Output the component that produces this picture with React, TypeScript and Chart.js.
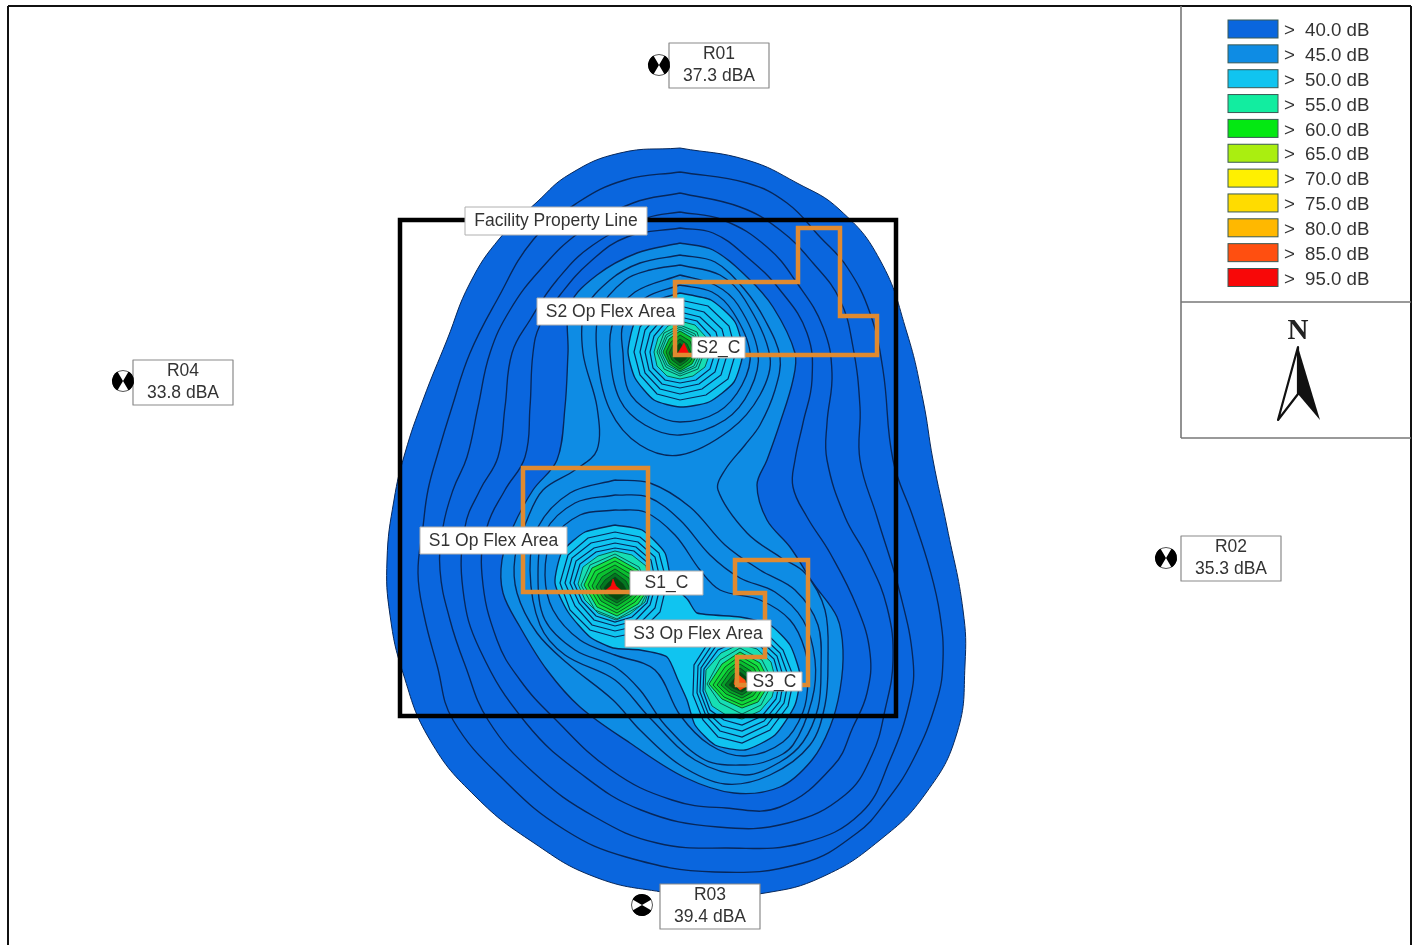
import React, { useEffect, useRef } from "react";
import { Chart, registerables } from "chart.js";

Chart.register(...registerables);

type Pt = [number, number];

const contour40: Pt[] = [[680,148],[747,160],[797,183],[840,210],[880,260],[907,333],[923,400],[933,460],[947,527],[963,610],[965,665],[957,733],[926,793],[880,840],[822,877],[765,893],[710,896],[662,892],[595,877],[534,843],[476,797],[430,740],[403,673],[390,615],[387,560],[394,500],[405,453],[423,400],[447,340],[470,283],[500,238],[537,202],[570,174],[620,153]];
const contour41: Pt[] = [[680,172],[747,183],[787,203],[820,237],[847,267],[870,313],[883,370],[893,460],[913,517],[930,570],[940,615],[943,660],[937,700],[913,760],[885,803],[857,833],[803,863],[715,872],[626,857],[565,830],[507,783],[453,720],[437,665],[424,615],[418,573],[423,527],[428,490],[438,453],[452,407],[470,353],[497,300],[533,240],[577,203],[625,180]];
const contour42: Pt[] = [[680,193],[740,207],[780,230],[813,263],[840,300],[853,347],[860,407],[860,460],[877,517],[900,593],[913,660],[910,700],[890,760],[861,813],[803,843],[726,848],[657,843],[595,817],[534,773],[488,720],[465,665],[450,620],[440,570],[443,527],[453,490],[467,457],[478,407],[490,353],[510,310],[540,270],[580,232],[633,203]];
const contour43: Pt[] = [[680,212],[723,220],[767,247],[797,283],[823,327],[832,373],[827,423],[827,460],[845,517],[867,557],[887,607],[893,660],[885,710],[872,755],[845,795],[788,823],[718,827],[641,810],[580,773],[526,723],[480,650],[463,590],[465,527],[480,490],[498,457],[505,407],[512,353],[530,320],[557,280],[593,245],[647,218]];
const contour44: Pt[] = [[680,228],[713,233],[747,257],[780,290],[807,333],[812,380],[803,423],[795,460],[793,487],[807,517],[830,553],[857,607],[870,653],[867,693],[853,727],[834,765],[780,807],[726,808],[672,800],[611,770],[553,717],[520,680],[497,640],[482,575],[487,527],[505,490],[525,457],[530,407],[533,353],[540,325],[560,295],[590,262],[627,237]];
const contour45: Pt[] = [[680,243],[713,250],[747,277],[773,307],[795,353],[793,380],[780,423],[767,460],[757,485],[767,520],[790,547],[813,583],[837,617],[843,650],[840,690],[830,727],[812,760],[780,787],[734,793],[684,777],[630,743],[580,707],[547,670],[520,627],[503,593],[502,560],[513,527],[533,490],[557,460],[565,407],[568,353],[570,305],[597,275],[637,253]];
const contour46: Pt[] = [[680,255],[715,262],[745,290],[765,320],[780,357],[775,390],[760,425],[745,445],[725,470],[718,490],[747,533],[780,557],[805,573],[825,610],[828,660],[825,705],[810,745],[770,775],[725,784],[680,765],[640,730],[613,700],[567,663],[537,633],[517,593],[515,557],[527,520],[543,490],[575,470],[597,450],[597,407],[583,353],[585,310],[610,280],[640,263]];
const contour47North: Pt[] = [[680,265],[720,275],[745,300],[770,357],[760,395],[730,430],[680,455],[640,445],[610,410],[597,353],[600,310],[625,280],[650,270]];
const contour47South: Pt[] = [[615,480],[650,483],[690,507],[725,545],[760,570],[795,590],[818,625],[821,670],[818,708],[803,742],[780,762],[745,775],[695,760],[650,718],[615,680],[565,655],[540,625],[530,570],[538,527],[570,493]];
const contour48North: Pt[] = [[680,275],[715,285],[738,305],[758,352],[750,390],[725,420],[680,435],[645,425],[620,400],[610,353],[614,320],[635,292]];
const contour48South: Pt[] = [[615,495],[648,497],[680,520],[710,555],[740,578],[775,592],[803,620],[815,660],[812,700],[793,745],[770,760],[745,765],[705,760],[665,725],[640,690],[615,667],[575,650],[545,620],[538,575],[545,532],[575,503]];
const contour49North: Pt[] = [[680,285],[712,292],[733,312],[750,352],[742,385],[718,412],[680,422],[650,412],[628,390],[623,353],[623,325],[645,298]];
const contour49South: Pt[] = [[615,510],[645,512],[675,535],[700,570],[720,590],[760,600],[790,620],[805,650],[808,680],[803,712],[783,742],[745,756],[710,745],[680,715],[655,670],[615,655],[580,640],[553,610],[545,575],[552,540],[580,515]];
const contour50North: Pt[] = [[680,293],[711,300],[735,322],[743,352],[734,382],[709,402],[680,407],[654,400],[635,378],[628,352],[634,324],[652,302]];
const contour50South: Pt[] = [[615,525],[642,530],[665,553],[672,583],[688,600],[697,613],[740,617],[770,625],[790,645],[800,675],[795,705],[775,735],[745,750],[715,745],[695,725],[687,700],[678,680],[667,657],[640,650],[613,648],[590,637],[568,612],[555,583],[562,552],[585,532]];

const peakS2Cyan: Pt[][] = [
  [[680,300],[708,306],[729,326],[736,352],[728,379],[706,395],[680,400],[657,394],[640,375],[634,352],[640,327],[655,309]],
  [[680,306],[704,312],[722,329],[728,352],[721,375],[702,389],[680,394],[660,389],[645,373],[640,352],[645,330],[659,314]],
  [[680,312],[700,317],[716,332],[721,352],[715,372],[699,384],[680,388],[662,384],[649,370],[645,352],[650,333],[662,319]],
  [[680,317],[697,321],[710,335],[715,353],[710,369],[696,380],[680,383],[665,380],[653,368],[650,352],[654,336],[665,323]],
];
const peakS2Mint: Pt[][] = [
  [[680,321],[695,325],[706,337],[710,353],[705,367],[693,376],[680,379],[667,376],[657,366],[654,352],[658,338],[668,326]],
  [[680,325],[697,332],[704,353],[698,369],[680,376],[664,369],[657,352],[664,333]],
  [[680,327],[695,334],[702,353],[696,367],[680,374],[666,367],[659,352],[666,335]],
  [[680,329],[694,336],[700,353],[694,366],[680,372],[667,365],[661,352],[667,337]],
];
const peakS2Green: Pt[][] = [
  [[680,331],[692,338],[698,353],[692,364],[680,371],[669,364],[663,352],[669,339]],
  [[680,335],[690,341],[695,354],[690,362],[680,369],[670,362],[666,352],[671,342]],
  [[680,339],[687,344],[692,355],[687,361],[680,366],[672,360],[669,353],[673,345]],
  [[680,343],[685,348],[688,356],[685,360],[680,363],[675,359],[672,354],[675,348]],
];
const peakS2Core: Pt[] = [[676,356],[681,348],[684,343],[690,356]];

const peakS1Cyan: Pt[][] = [
  [[615,532],[640,537],[659,553],[667,583],[660,612],[640,632],[615,637],[590,630],[570,610],[560,583],[568,555],[588,538]],
  [[615,538],[638,542],[655,557],[661,583],[655,608],[637,626],[615,631],[592,625],[575,606],[565,583],[572,558],[591,543]],
  [[615,543],[636,547],[651,560],[656,584],[650,605],[635,621],[615,626],[594,620],[579,603],[570,583],[576,561],[594,548]],
  [[615,548],[634,551],[648,563],[652,585],[647,603],[632,617],[615,622],[596,616],[582,601],[574,583],[580,564],[596,552]],
];
const peakS1Mint: Pt[][] = [
  [[615,551],[632,555],[646,566],[650,587],[645,602],[630,614],[616,620],[598,613],[585,600],[578,584],[583,567],[598,556]],
  [[615,554],[639,567],[649,589],[641,605],[617,619],[595,610],[581,585],[590,565]],
];
const peakS1Green: Pt[][] = [
  [[615,557],[638,570],[647,591],[638,604],[617,616],[597,607],[584,585],[592,568]],
  [[615,561],[635,572],[644,591],[635,602],[617,613],[599,604],[588,585],[595,571]],
  [[615,565],[632,575],[640,592],[632,600],[617,610],[601,601],[592,586],[598,574]],
  [[615,569],[629,578],[636,592],[629,598],[617,606],[604,599],[596,587],[602,577]],
  [[615,573],[626,581],[632,593],[626,597],[617,603],[606,597],[600,587],[605,580]],
  [[615,577],[623,584],[628,593],[623,596],[617,600],[609,595],[604,588],[608,583]],
];
const peakS1Core: Pt[] = [[605,591],[611,586],[613,579],[616,586],[622,591]];

const peakS3Cyan: Pt[][] = [
  [[740,625],[765,632],[783,650],[794,678],[788,706],[770,730],[742,743],[718,737],[703,720],[693,695],[694,665],[712,637]],
  [[740,631],[763,637],[780,653],[789,678],[784,703],[767,725],[742,737],[720,731],[706,716],[697,693],[698,666],[714,642]],
  [[740,636],[761,641],[777,656],[784,679],[780,701],[764,721],[742,731],[722,726],[708,713],[700,692],[701,668],[716,646]],
  [[740,640],[759,645],[774,659],[780,680],[776,699],[762,716],[742,725],[724,720],[710,710],[703,691],[704,669],[718,650]],
];
const peakS3Mint: Pt[][] = [
  [[740,644],[757,649],[771,662],[776,681],[772,697],[760,711],[742,719],[726,715],[712,706],[705,690],[706,670],[721,653]],
  [[740,648],[762,660],[773,682],[761,705],[742,714],[720,703],[707,684],[720,660]],
];
const peakS3Green: Pt[][] = [
  [[740,652],[760,663],[770,683],[758,702],[742,708],[722,699],[709,684],[722,664]],
  [[740,656],[757,666],[766,683],[756,699],[742,705],[724,697],[713,685],[725,667]],
  [[740,660],[754,668],[762,684],[753,696],[742,701],[726,694],[717,685],[728,670]],
  [[740,664],[751,671],[758,684],[751,693],[742,698],[729,692],[721,685],[730,672]],
  [[740,668],[748,674],[754,685],[748,691],[742,695],[731,690],[725,685],[733,675]],
  [[740,672],[746,677],[750,685],[746,689],[742,692],[733,688],[729,685],[735,678]],
];
const peakS3Core: Pt[] = [[736,673],[745,680],[747,686],[740,690],[734,684]];

const propertyLine: Pt[] = [[400,220],[896,220],[896,716],[400,716]];
const s1FlexArea: Pt[] = [[523,468],[648,468],[648,592],[523,592]];
const s2FlexArea: Pt[] = [[675,282],[798,282],[798,228],[840,228],[840,316],[877,316],[877,355],[675,355]];
const s3FlexArea: Pt[] = [[735,560],[808,560],[808,685],[737,685],[737,657],[765,657],[765,593],[735,593]];

const legendLabels = ["40.0 dB","45.0 dB","50.0 dB","55.0 dB","60.0 dB","65.0 dB","70.0 dB","75.0 dB","80.0 dB","85.0 dB","95.0 dB"];
const legendColors = ["#0a66de","#0e8ce4","#10c4f0","#12eda0","#04e812","#aaee10","#fff000","#ffdc00","#ffb800","#ff4f10","#f80808"];

const receiverNames = ["R01","R02","R03","R04"];
const receiverLevels = ["37.3 dBA","35.3 dBA","39.4 dBA","33.8 dBA"];
const receiverX = [719,1231,710,183];
const receiverY = [65,558,906,382];
const receiverMarkX = [659,1166,642,123];
const receiverMarkY = [65,558,905,381];
const receiverMarkTurned = [false,false,true,false];

const calloutTexts = ["Facility Property Line","S2 Op Flex Area","S2_C","S1 Op Flex Area","S1_C","S3 Op Flex Area","S3_C"];
const calloutBoxes: [number,number,number,number][] = [[465,207,647,235],[537,298,684,325],[692,337,745,358],[420,527,567,554],[630,571,703,595],[625,620,771,647],[747,672,802,691]];

const DARK_LINE = "#07275a";
const GREEN_LINE = "#0a4420";
const PEAK_MINT = "#16dfb4";

const ring = (pts: Pt[], fillColor: string, lineColor: string, tension: number, width = 1.35) => ({
  data: [...pts, pts[0]].map(([x, y]) => ({ x, y })),
  showLine: true,
  fill: "shape",
  backgroundColor: fillColor,
  borderColor: lineColor,
  borderWidth: width,
  pointRadius: 0,
  tension,
});

const outline = (pts: Pt[], color: string, width: number) => ({
  data: [...pts, pts[0], pts[1]].map(([x, y]) => ({ x, y })),
  showLine: true,
  fill: false,
  borderColor: color,
  borderWidth: width,
  borderJoinStyle: "miter",
  pointRadius: 0,
  tension: 0,
});

export default function App() {
  const ref = useRef<HTMLCanvasElement>(null);
  useEffect(() => {
    const [c40, c45, c50, , c60] = legendColors;
    const peaks = [
      [peakS1Cyan, peakS1Mint, peakS1Green, peakS1Core, "#f80808"],
      [peakS2Cyan, peakS2Mint, peakS2Green, peakS2Core, "#f80808"],
      [peakS3Cyan, peakS3Mint, peakS3Green, peakS3Core, "#ff4f10"],
    ] as [Pt[][], Pt[][], Pt[][], Pt[], string][];
    const greens = ["#14e244", "#0fd83a", "#0ac030", "#06a028", "#047820", "#034a10"];
    const layers: any[] = [
      ring(contour40, c40, DARK_LINE, 0.45, 1),
      ...[contour41, contour42, contour43, contour44].map((p) => ring(p, c40, DARK_LINE, 0.42)),
      ...[contour45, contour46, contour47North, contour47South, contour48North, contour48South, contour49North, contour49South].map((p) => ring(p, c45, DARK_LINE, 0.35)),
      ...[contour50North, contour50South].map((p) => ring(p, c50, DARK_LINE, 0.2)),
    ];
    for (const [cy, mi, gr, core, coreColor] of peaks) {
      cy.forEach((p) => layers.push(ring(p, c50, DARK_LINE, 0, 1.2)));
      mi.forEach((p) => layers.push(ring(p, PEAK_MINT, "#0a5a50", 0, 1)));
      gr.forEach((p, i) => layers.push(ring(p, greens[i + (6 - gr.length)] ?? c60, GREEN_LINE, 0, 0.9)));
      layers.push(ring(core, coreColor, coreColor, 0, 0.5));
    }
    layers.push(outline(propertyLine, "#000000", 4.5));
    layers.push(outline(s1FlexArea, "#e08a30", 4.5));
    layers.push(outline(s2FlexArea, "#e08a30", 4.5));
    layers.push(outline(s3FlexArea, "#e08a30", 4.5));

    const annotations = {
      id: "annotations",
      afterDatasetsDraw(chart: any) {
        const { ctx, scales } = chart;
        const X = (v: number) => scales.x.getPixelForValue(v);
        const Y = (v: number) => scales.y.getPixelForValue(v);
        const line = (a: number, b: number, c: number, d: number, color: string, w: number) => {
          ctx.strokeStyle = color; ctx.lineWidth = w;
          ctx.beginPath(); ctx.moveTo(X(a), Y(b)); ctx.lineTo(X(c), Y(d)); ctx.stroke();
        };
        ctx.save();
        // page frame and side panel
        line(8, 6, 8, 945, "#111", 2);
        line(8, 6, 1411, 6, "#111", 2);
        line(1411, 6, 1411, 945, "#111", 2);
        line(1181, 6, 1181, 438, "#777", 1.6);
        line(1181, 302, 1411, 302, "#777", 1.6);
        line(1181, 438, 1411, 438, "#777", 1.6);

        // legend
        ctx.textBaseline = "middle";
        legendLabels.forEach((label, i) => {
          const y = 20 + i * 24.85;
          ctx.fillStyle = legendColors[i];
          ctx.strokeStyle = "#3a5a55";
          ctx.lineWidth = 1;
          ctx.fillRect(X(1228), Y(y), 50, 18);
          ctx.strokeRect(X(1228), Y(y), 50, 18);
          ctx.fillStyle = "#333";
          ctx.font = "18.7px 'Liberation Sans'";
          ctx.textAlign = "left";
          ctx.fillText(">", X(1284), Y(y + 11));
          ctx.fillText(label, X(1305), Y(y + 11));
        });

        // north arrow
        ctx.fillStyle = "#222";
        ctx.textAlign = "center";
        ctx.font = "bold 29px 'Liberation Serif'";
        ctx.fillText("N", X(1298), Y(332));
        ctx.fillStyle = "#111";
        ctx.beginPath();
        ctx.moveTo(X(1298), Y(347)); ctx.lineTo(X(1320), Y(420)); ctx.lineTo(X(1298), Y(394)); ctx.closePath();
        ctx.fill();
        ctx.strokeStyle = "#111"; ctx.lineWidth = 2.2; ctx.lineJoin = "round";
        ctx.beginPath();
        ctx.moveTo(X(1298), Y(347)); ctx.lineTo(X(1278), Y(420)); ctx.lineTo(X(1298), Y(394)); ctx.closePath();
        ctx.stroke();

        // receivers
        receiverNames.forEach((name, i) => {
          const cx = receiverX[i], cy = receiverY[i];
          ctx.fillStyle = "#fff";
          ctx.strokeStyle = "#8a8a8a";
          ctx.lineWidth = 1.2;
          ctx.fillRect(X(cx - 50), Y(cy - 22), 100, 45);
          ctx.strokeRect(X(cx - 50), Y(cy - 22), 100, 45);
          ctx.fillStyle = "#333";
          ctx.textAlign = "center";
          ctx.font = "17.5px 'Liberation Sans'";
          ctx.fillText(name, X(cx), Y(cy - 11));
          ctx.fillText(receiverLevels[i], X(cx), Y(cy + 11));

          const mx = X(receiverMarkX[i]), my = Y(receiverMarkY[i]);
          ctx.save();
          ctx.translate(mx, my);
          if (receiverMarkTurned[i]) ctx.rotate(Math.PI / 2);
          ctx.beginPath(); ctx.arc(0, 0, 10.5, 0, Math.PI * 2);
          ctx.fillStyle = "#fff"; ctx.fill();
          ctx.strokeStyle = "#555"; ctx.lineWidth = 1; ctx.stroke();
          ctx.fillStyle = "#000";
          ctx.beginPath(); ctx.moveTo(0, 0); ctx.arc(0, 0, 11, Math.PI * 0.67, Math.PI * 1.33); ctx.closePath(); ctx.fill();
          ctx.beginPath(); ctx.moveTo(0, 0); ctx.arc(0, 0, 11, -Math.PI * 0.33, Math.PI * 0.33); ctx.closePath(); ctx.fill();
          ctx.restore();
        });

        // callouts
        calloutTexts.forEach((text, i) => {
          const [a, b, c, d] = calloutBoxes[i];
          ctx.fillStyle = "#fff";
          ctx.fillRect(X(a), Y(b), c - a, d - b);
          ctx.strokeStyle = "#b0b0b0";
          ctx.lineWidth = 1;
          ctx.strokeRect(X(a), Y(b), c - a, d - b);
          ctx.fillStyle = "#333";
          ctx.font = "17.5px 'Liberation Sans'";
          ctx.textAlign = "center";
          ctx.fillText(text, X((a + c) / 2), Y((b + d) / 2 + 0.5));
        });
        ctx.restore();
      },
    };

    const chart = new Chart(ref.current!, {
      type: "scatter",
      data: { datasets: [...layers].reverse() },
      options: {
        animation: false,
        responsive: false,
        events: [],
        layout: { padding: 0 },
        plugins: { legend: { display: false }, tooltip: { enabled: false } },
        scales: {
          x: { type: "linear", display: false, min: 0, max: 1419 },
          y: { type: "linear", display: false, min: 0, max: 945, reverse: true },
        },
      },
      plugins: [annotations],
    } as any);
    return () => chart.destroy();
  }, []);
  return (
    <canvas
      ref={ref}
      width={1419}
      height={945}
      style={{ position: "fixed", left: 0, top: 0, width: 1419, height: 945, background: "#fff", filter: "blur(0.45px)" }}
    />
  );
}
